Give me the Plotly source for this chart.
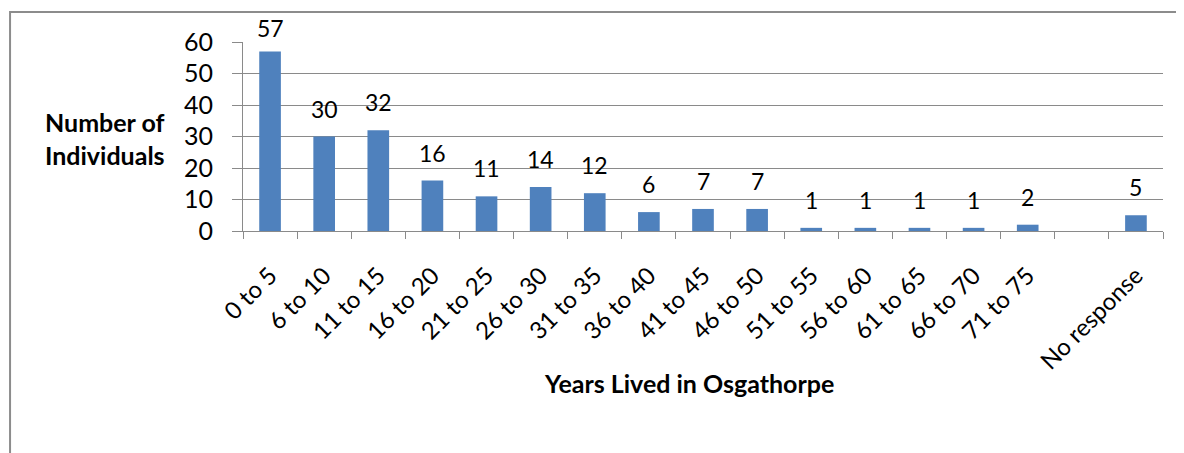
import plotly.graph_objects as go

# data
categories = ["0 to 5", "6 to 10", "11 to 15", "16 to 20", "21 to 25", "26 to 30",
              "31 to 35", "36 to 40", "41 to 45", "46 to 50", "51 to 55", "56 to 60",
              "61 to 65", "66 to 70", "71 to 75", " ", "No response"]
counts = [57, 30, 32, 16, 11, 14, 12, 6, 7, 7, 1, 1, 1, 1, 2, None, 5]
y_ticks = [0, 10, 20, 30, 40, 50, 60]

BAR = "#4F81BD"
GRID = "#8a8a8a"
FONT = "Lato, Carlito, Calibri, sans-serif"
PLOT_H = 189  # plot area height in px
Y_MAX = 60

fig = go.Figure()
fig.add_trace(go.Bar(
    x=categories,
    y=counts,
    marker=dict(color=BAR, line=dict(width=0)),
    width=0.4,
    hoverinfo="x+y",
))

# value labels above the bars (kept inside the plot area like Excel does)
for c, v in zip(categories, counts):
    if v is None:
        continue
    room = (Y_MAX - v) * PLOT_H / Y_MAX - 2
    fig.add_annotation(
        x=c, y=v, text=str(v), showarrow=False,
        yanchor="bottom", yshift=min(12, room),
        font=dict(size=23, color="black", family=FONT),
    )

# axis titles (horizontal y title, Excel style)
title_font = dict(size=25, color="black", family=FONT)
fig.add_annotation(x=-0.15, y=0.577, xref="paper", yref="paper", text="<b>Number of</b>",
                   showarrow=False, xanchor="center", yanchor="middle", font=title_font)
fig.add_annotation(x=-0.15, y=0.402, xref="paper", yref="paper", text="<b>Individuals</b>",
                   showarrow=False, xanchor="center", yanchor="middle", font=title_font)
fig.add_annotation(x=0.485, y=-0.804, xref="paper", yref="paper",
                   text="<b>Years Lived in Osgathorpe</b>",
                   showarrow=False, xanchor="center", yanchor="middle", font=title_font)

# chart frame (left and top edges)
fig.add_shape(type="path", xref="paper", yref="paper",
              path="M -0.2532,-1.2 L -0.2532,1.1587 L 1.03,1.1587",
              line=dict(color="#8c8c8c", width=2))

# page body has an 8px margin, so the figure is 8px smaller than the window
fig.update_layout(
    width=1176,
    height=445,
    plot_bgcolor="white",
    paper_bgcolor="white",
    margin=dict(l=235, r=21, t=34, b=222),
    showlegend=False,
    font=dict(family=FONT, color="black"),
)

fig.update_xaxes(
    type="category",
    automargin=False,
    tickson="boundaries",
    ticks="outside",
    ticklen=7,
    tickcolor=GRID,
    showline=True,
    linecolor=GRID,
    linewidth=1,
    showgrid=False,
    tickangle=-45,
    ticklabelstandoff=20,
    tickfont=dict(size=24, family=FONT, color="black"),
)

fig.update_yaxes(
    range=[0, Y_MAX],
    automargin=False,
    tickvals=y_ticks,
    ticks="outside",
    ticklen=10,
    tickcolor=GRID,
    showline=True,
    linecolor=GRID,
    linewidth=1,
    showgrid=True,
    gridcolor=GRID,
    gridwidth=1,
    zeroline=False,
    ticklabelstandoff=14,
    tickfont=dict(size=25, family=FONT, color="black"),
)

fig.write_html("out.html")
